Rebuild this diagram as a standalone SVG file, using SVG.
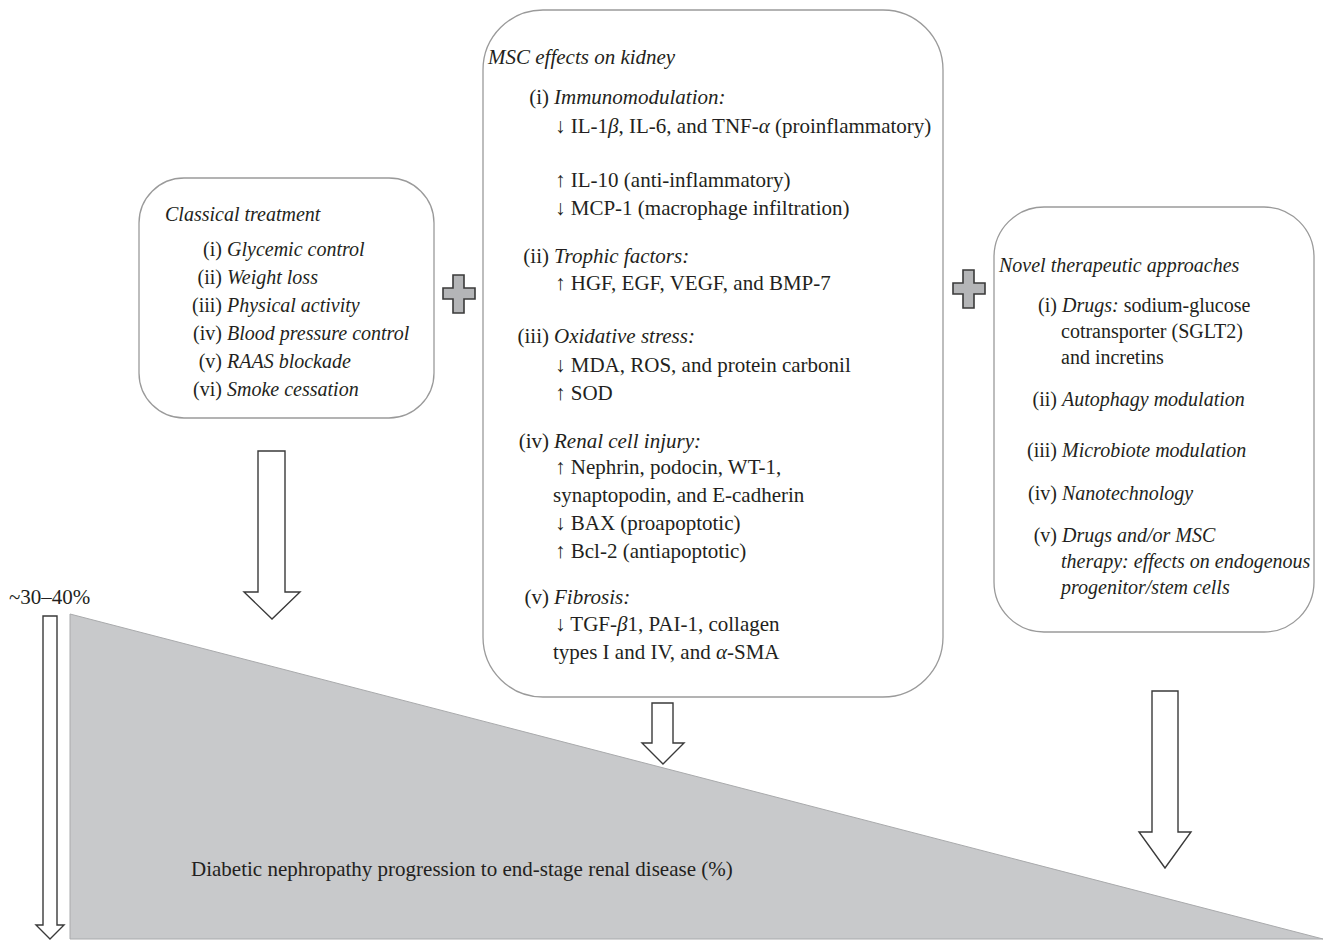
<svg xmlns="http://www.w3.org/2000/svg" width="1325" height="940" viewBox="0 0 1325 940">
<style>
text{font-family:"Liberation Serif","DejaVu Serif",serif;font-size:20px;fill:#231f20}
.it{font-style:italic}
.lb{text-anchor:end}
.big{font-size:21px}
.box{fill:#fff;stroke:#9a9a9a;stroke-width:1.3}
.arr{fill:#fff;stroke:#3a3a3a;stroke-width:1.4;stroke-linejoin:miter}
.plus{fill:#b4b5b7;stroke:#3a3a3a;stroke-width:1.6}
</style>
<g id="progression">
<polygon points="70,614 1323,939 70,939" fill="#c8c9cb" stroke="#a9aaac" stroke-width="1"/>
<text class="big" x="191" y="876">Diabetic nephropathy progression to end-stage renal disease (%)</text>
</g>
<g id="percent">
<text class="big" x="9" y="604">~30–40%</text>
<polygon class="arr" points="43,616 57,616 57,925 64,925 50,939 36,925 43,925"/>
</g>
<g id="classical">
<rect class="box" x="139" y="178" width="295" height="240" rx="45" ry="45"/>
<text class="it" x="165" y="221">Classical treatment</text>
<text class="lb" x="222" y="256">(i)</text><text class="it" x="227" y="256">Glycemic control</text>
<text class="lb" x="222" y="284">(ii)</text><text class="it" x="227" y="284">Weight loss</text>
<text class="lb" x="222" y="312">(iii)</text><text class="it" x="227" y="312">Physical activity</text>
<text class="lb" x="222" y="340">(iv)</text><text class="it" x="227" y="340">Blood pressure control</text>
<text class="lb" x="222" y="368">(v)</text><text class="it" x="227" y="368">RAAS blockade</text>
<text class="lb" x="222" y="396">(vi)</text><text class="it" x="227" y="396">Smoke cessation</text>
</g>
<g id="msc" class="big">
<rect class="box" x="483" y="10" width="460" height="687" rx="60" ry="60"/>
<text class="it big" x="488" y="64">MSC effects on kidney</text>
<text class="lb big" x="549" y="104">(i)</text><text class="it big" x="554" y="104">Immunomodulation:</text>
<text class="big" x="555" y="133">↓ IL-1<tspan class="it">β</tspan>, IL-6, and TNF-<tspan class="it">α</tspan> (proinflammatory)</text>
<text class="big" x="555" y="187">↑ IL-10 (anti-inflammatory)</text>
<text class="big" x="555" y="215">↓ MCP-1 (macrophage infiltration)</text>
<text class="lb big" x="549" y="263">(ii)</text><text class="it big" x="554" y="263">Trophic factors:</text>
<text class="big" x="555" y="290">↑ HGF, EGF, VEGF, and BMP-7</text>
<text class="lb big" x="549" y="343">(iii)</text><text class="it big" x="554" y="343">Oxidative stress:</text>
<text class="big" x="555" y="372">↓ MDA, ROS, and protein carbonil</text>
<text class="big" x="555" y="400">↑ SOD</text>
<text class="lb big" x="549" y="448">(iv)</text><text class="it big" x="554" y="448">Renal cell injury:</text>
<text class="big" x="555" y="474">↑ Nephrin, podocin, WT-1,</text>
<text class="big" x="553" y="502">synaptopodin, and E-cadherin</text>
<text class="big" x="555" y="530">↓ BAX (proapoptotic)</text>
<text class="big" x="555" y="558">↑ Bcl-2 (antiapoptotic)</text>
<text class="lb big" x="549" y="604">(v)</text><text class="it big" x="554" y="604">Fibrosis:</text>
<text class="big" x="555" y="631">↓ TGF-<tspan class="it">β</tspan>1, PAI-1, collagen</text>
<text class="big" x="553" y="659">types I and IV, and <tspan class="it">α</tspan>-SMA</text>
</g>
<g id="novel">
<rect class="box" x="994" y="207" width="320" height="425" rx="50" ry="50"/>
<text class="it" x="999" y="272">Novel therapeutic approaches</text>
<text class="lb" x="1057" y="312">(i)</text><text x="1062" y="312"><tspan class="it">Drugs:</tspan> sodium-glucose</text>
<text x="1061" y="338">cotransporter (SGLT2)</text>
<text x="1061" y="364">and incretins</text>
<text class="lb" x="1057" y="406">(ii)</text><text class="it" x="1062" y="406">Autophagy modulation</text>
<text class="lb" x="1057" y="457">(iii)</text><text class="it" x="1062" y="457">Microbiote modulation</text>
<text class="lb" x="1057" y="500">(iv)</text><text class="it" x="1062" y="500">Nanotechnology</text>
<text class="lb" x="1057" y="542">(v)</text><text class="it" x="1062" y="542">Drugs and/or MSC</text>
<text class="it" x="1061" y="568">therapy: effects on endogenous</text>
<text class="it" x="1061" y="594">progenitor/stem cells</text>
</g>
<g id="plus-left">
<polygon class="plus" points="453,275 464,275 464,288 475,288 475,299 464,299 464,313 453,313 453,299 443,299 443,288 453,288"/>
</g>
<g id="plus-right">
<polygon class="plus" points="963,270 974,270 974,283 985,283 985,294 974,294 974,308 963,308 963,294 953,294 953,283 963,283"/>
</g>
<g id="connectors">
<polygon class="arr" points="258,451 285,451 285,592 300,592 272,619 244,592 258,592"/>
<polygon class="arr" points="652,703 673,703 673,743 684,743 663,764 642,743 652,743"/>
<polygon class="arr" points="1152,691 1178,691 1178,832 1191,832 1165,868 1139,832 1152,832"/>
</g>
</svg>
